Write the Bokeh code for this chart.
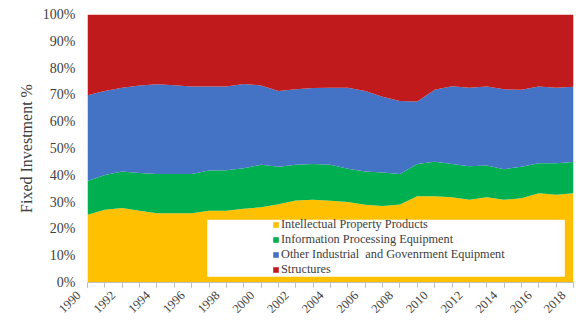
import math
from bokeh.plotting import figure
from bokeh.models import FixedTicker, Legend, LegendItem, BoxAnnotation, NumeralTickFormatter, ColumnDataSource
from bokeh.embed import file_html
from bokeh.resources import INLINE

years = list(range(1990, 2019))
ipp = [25.3, 27.1, 27.8, 26.8, 25.8, 25.8, 25.8, 26.8, 26.8, 27.5, 28.1, 29.2, 30.6, 30.9, 30.5,
       30.0, 29.0, 28.5, 29.1, 32.2, 32.2, 31.8, 30.9, 31.8, 30.9, 31.4, 33.3, 32.7, 33.3]
ipe = [12.6, 13.0, 13.6, 14.1, 14.7, 14.7, 14.7, 15.0, 15.1, 15.1, 15.8, 14.0, 13.3, 13.3, 13.4,
       12.4, 12.4, 12.5, 11.4, 12.0, 12.9, 12.4, 12.5, 11.9, 11.4, 11.8, 11.2, 11.8, 11.7]
other = [32.0, 31.4, 31.3, 32.6, 33.5, 33.1, 32.6, 31.3, 31.2, 31.5, 29.6, 28.3, 28.2, 28.4, 28.8,
         30.3, 30.1, 28.3, 27.2, 23.3, 26.8, 29.0, 29.3, 29.4, 29.8, 28.7, 28.6, 28.2, 28.0]
structures = [round(100 - a - b - c, 1) for a, b, c in zip(ipp, ipe, other)]

names = ["Intellectual Property Products", "Information Processing Equipment",
         "Other Industrial  and Govenrment Equipment", "Structures"]
colors = ["#FFC000", "#00B050", "#4472C4", "#C01A1C"]
ytick_vals = [0, 10, 20, 30, 40, 50, 60, 70, 80, 90, 100]
xtick_years = years[::2]
xtick_labels = [str(y) for y in xtick_years]

src = ColumnDataSource(dict(year=years, s0=[v / 100 for v in ipp], s1=[v / 100 for v in ipe],
                            s2=[v / 100 for v in other], s3=[v / 100 for v in structures]))

p = figure(width=577, height=323, output_backend="svg", toolbar_location=None,
           x_range=(1990, 2018), y_range=(0, 1),
           min_border_left=87, min_border_right=4, min_border_top=14, min_border_bottom=40)
p.outline_line_color = None
p.background_fill_color = "white"

rs = p.varea_stack(["s0", "s1", "s2", "s3"], x="year", color=colors, source=src)

FONT = "Liberation Serif"
TXT = "#404040"

# figure spaces after each year push the visible digits so they end near the tick
PAD = "\u2007" * 2
p.xaxis.ticker = FixedTicker(ticks=xtick_years, minor_ticks=years)
p.xaxis.major_label_overrides = {y: t + PAD for y, t in zip(xtick_years, xtick_labels)}
p.xaxis.major_label_orientation = math.pi / 4
p.xaxis.major_label_text_font = FONT
p.xaxis.major_label_text_font_size = "12.5px"
p.xaxis.major_label_text_color = TXT
p.xaxis.axis_line_color = "#BFBFBF"
p.xaxis.major_tick_line_color = "#BFBFBF"
p.xaxis.minor_tick_line_color = "#BFBFBF"
p.xaxis.major_tick_in = 0
p.xaxis.major_tick_out = 5
p.xaxis.minor_tick_in = 0
p.xaxis.minor_tick_out = 5
p.xaxis.major_label_standoff = -3

p.yaxis.ticker = FixedTicker(ticks=[v / 100 for v in ytick_vals])
p.yaxis.formatter = NumeralTickFormatter(format="0%")
p.yaxis.major_label_text_font = FONT
p.yaxis.major_label_text_font_size = "14px"
p.yaxis.major_label_text_color = TXT
p.yaxis.axis_line_color = None
p.yaxis.major_tick_line_color = None
p.yaxis.minor_tick_line_color = None
p.yaxis.major_tick_out = 0
p.yaxis.major_label_standoff = 12
p.yaxis.axis_label = "Fixed Investment %"
p.yaxis.axis_label_text_font = FONT
p.yaxis.axis_label_text_font_size = "16px"
p.yaxis.axis_label_text_font_style = "normal"
p.yaxis.axis_label_text_color = TXT
p.yaxis.axis_label_standoff = 5

p.xgrid.grid_line_color = None
p.ygrid.ticker = FixedTicker(ticks=[1.0])
p.ygrid.grid_line_color = "#D9D9D9"

box = BoxAnnotation(left=1996.9, right=2017.5, bottom=0.021, top=0.234,
                    fill_color="white", fill_alpha=1.0, line_color=None, level="overlay")
p.add_layout(box)

items = [LegendItem(label=n, renderers=[r]) for n, r in zip(names, rs)]
legend = Legend(items=items, location=(185, 5), padding=0, margin=0, spacing=0,
                glyph_width=7, glyph_height=7, label_height=14, label_standoff=2,
                label_text_font=FONT, label_text_font_size="12.3px", label_text_color=TXT,
                background_fill_alpha=0, border_line_color=None)
p.add_layout(legend, "center")

open("out.html", "w").write(file_html(p, INLINE))
